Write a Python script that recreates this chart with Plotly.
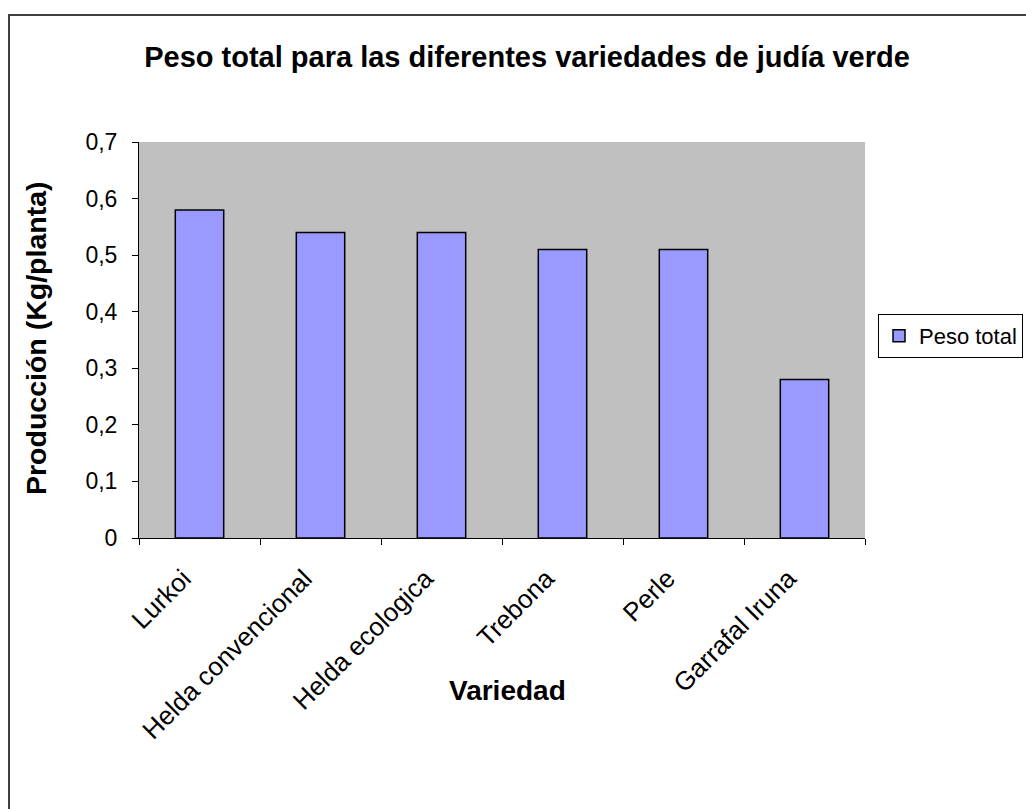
import plotly.graph_objects as go

# Yield per plant for each green bean variety
variedades = ["Lurkoi", "Helda convencional", "Helda ecologica", "Trebona", "Perle", "Garrafal Iruna"]
peso_total = [0.58, 0.54, 0.54, 0.51, 0.51, 0.28]
y_ticks = [0, 0.1, 0.2, 0.3, 0.4, 0.5, 0.6, 0.7]

W, H = 1026, 809
L, R, T, B = 139, 161, 142, 271
pw, ph = W - L - R, H - T - B


def px_x(x):
    return (x - L) / pw


def px_y(y):
    return (H - B - y) / ph


font = "Liberation Sans, Arial, sans-serif"

fig = go.Figure(
    go.Bar(
        x=variedades,
        y=peso_total,
        name="Peso total",
        marker=dict(color="#9999FF", line=dict(color="black", width=1.5)),
    )
)

fig.update_layout(
    width=W,
    height=H,
    margin=dict(l=L, r=R, t=T, b=B, autoexpand=False),
    paper_bgcolor="white",
    plot_bgcolor="#C0C0C0",
    separators=",.",
    bargap=0.6,
    showlegend=True,
    font=dict(family=font, color="black"),
    title=dict(
        text="<b>Peso total para las diferentes variedades de judía verde</b>",
        font=dict(size=29, family=font, color="black"),
        xref="container", x=527 / W, xanchor="center",
        yref="container", y=1 - 57 / H, yanchor="middle",
    ),
    legend=dict(
        x=px_x(878), y=px_y(314), xanchor="left", yanchor="top",
        bordercolor="black", borderwidth=1, bgcolor="white",
        font=dict(size=22, family=font, color="black"),
        tracegroupgap=0,
    ),
    xaxis=dict(
        range=[-0.5, 5.5],
        tickangle=-45,
        tickson="boundaries",
        ticks="outside", ticklen=6, tickcolor="black",
        ticklabelstandoff=14, ticklabelshift=-16,
        showline=True, linecolor="black", linewidth=1,
        showgrid=False,
        tickfont=dict(size=26, family=font, color="black"),
    ),
    yaxis=dict(
        range=[0, 0.7],
        tickvals=y_ticks,
        ticks="outside", ticklen=6, tickcolor="black",
        ticklabelstandoff=10,
        showline=True, linecolor="black", linewidth=1,
        showgrid=False, zeroline=False,
        tickfont=dict(size=23, family=font, color="black"),
    ),
    annotations=[
        dict(
            text="<b>Variedad</b>", xref="paper", yref="paper",
            x=px_x(507), y=px_y(690), xanchor="center", yanchor="middle",
            showarrow=False, font=dict(size=28, family=font, color="black"),
        ),
        dict(
            text="<b>Producción (Kg/planta)</b>", xref="paper", yref="paper",
            x=px_x(36), y=px_y(338), xanchor="center", yanchor="middle",
            textangle=-90, showarrow=False,
            font=dict(size=28.5, family=font, color="black"),
        ),
    ],
    shapes=[
        dict(
            type="rect", xref="paper", yref="paper", layer="below",
            x0=px_x(9), x1=px_x(1040), y0=px_y(830), y1=px_y(15),
            line=dict(color="#404040", width=2), fillcolor="rgba(0,0,0,0)",
        )
    ],
)

fig.write_html("out.html")
